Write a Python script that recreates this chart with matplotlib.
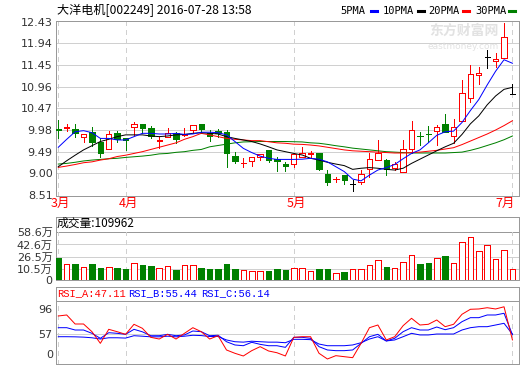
import matplotlib
matplotlib.use("Agg")
import matplotlib.pyplot as plt
from matplotlib.lines import Line2D
from matplotlib.patches import Rectangle

plt.rcParams['font.family'] = ['DejaVu Sans', 'Noto Sans CJK SC']

# ---------------- data ----------------
title = "大洋电机[002249] 2016-07-28 13:58"
month_labels = ["3月", "4月", "5月", "7月"]
month_idx = [0, 8, 28, 54]

opens = [10.00, 10.02, 10.00, 9.83, 9.93, 9.716, 9.54, 9.905, 9.79, 10.04,
         10.115, 10.02, 9.73, 9.83, 9.905, 9.87, 9.98, 10.115, 9.92, 9.96,
         9.927, 9.39, 9.235, 9.27, 9.38, 9.53, 9.32, 9.22, 9.20, 9.38,
         9.445, 9.45, 8.985, 8.865, 8.96, 8.76, 8.81, 9.09, 9.30, 9.30,
         9.115, 9.04, 9.55, 9.85, 9.895, 9.96, 10.11, 9.845, 10.19, 10.70,
         11.225, 11.64, 11.53, 11.60, 10.79]
closes = [9.99, 10.05, 9.905, 9.89, 9.716, 9.47, 9.88, 9.77, 9.755, 10.11,
          10.03, 9.845, 9.755, 9.905, 9.78, 9.89, 10.09, 10.00, 9.845, 9.91,
          9.467, 9.285, 9.245, 9.36, 9.43, 9.30, 9.29, 9.165, 9.43, 9.45,
          9.455, 9.10, 8.81, 8.875, 8.85, 8.76, 8.985, 9.325, 9.45, 9.09,
          9.205, 9.54, 9.98, 9.84, 9.885, 10.055, 9.94, 10.055, 10.81, 11.24,
          11.28, 11.64, 11.58, 12.09, 10.79]
highs = [10.21, 10.12, 10.12, 9.90, 10.055, 9.81, 9.95, 9.965, 9.79, 10.17,
         10.12, 10.08, 9.83, 10.02, 9.93, 10.02, 10.09, 10.12, 9.98, 9.995,
         9.98, 9.475, 9.34, 9.36, 9.43, 9.53, 9.36, 9.265, 9.45, 9.60,
         9.51, 9.465, 9.075, 8.925, 8.96, 8.85, 9.075, 9.45, 9.755, 9.32,
         9.265, 9.755, 10.19, 9.94, 10.08, 10.09, 10.34, 10.22, 11.10, 11.45,
         11.40, 11.79, 11.715, 12.40, 11.02]
lows = [9.79, 9.965, 9.83, 9.72, 9.62, 9.36, 9.54, 9.72, 9.53, 9.87,
        9.905, 9.81, 9.565, 9.83, 9.69, 9.845, 9.92, 9.92, 9.74, 9.83,
        9.135, 9.225, 9.15, 9.165, 9.30, 9.265, 9.06, 9.06, 9.15, 9.38,
        9.38, 9.075, 8.74, 8.81, 8.76, 8.61, 8.75, 8.92, 9.30, 8.96,
        9.075, 9.04, 9.45, 9.64, 9.72, 9.64, 9.94, 9.68, 10.19, 10.62,
        11.02, 11.38, 11.40, 11.60, 10.79]

ma5 = [9.59, 9.77, 9.94, 9.965, 9.92, 9.79, 9.79, 9.755, 9.755, 9.83,
       9.905, 9.905, 9.89, 9.89, 9.905, 9.88, 9.89, 9.93, 9.93, 9.92,
       9.87, 9.72, 9.565, 9.47, 9.39, 9.34, 9.315, 9.315, 9.315, 9.32,
       9.34, 9.32, 9.26, 9.15, 9.04, 8.87, 8.83, 8.96, 9.075, 9.13,
       9.20, 9.33, 9.45, 9.53, 9.69, 9.86, 9.94, 9.955, 10.15, 10.42,
       10.67, 11.00, 11.31, 11.57, 11.49]
ma10 = [9.15, 9.285, 9.41, 9.53, 9.625, 9.72, 9.77, 9.83, 9.87, 9.87,
        9.87, 9.845, 9.83, 9.845, 9.87, 9.88, 9.905, 9.92, 9.905, 9.89,
        9.83, 9.79, 9.755, 9.72, 9.665, 9.60, 9.53, 9.49, 9.45, 9.415,
        9.34, 9.30, 9.25, 9.21, 9.175, 9.09, 9.115, 9.13, 9.115, 9.09,
        9.075, 9.115, 9.225, 9.32, 9.415, 9.51, 9.60, 9.68, 9.88, 10.12,
        10.30, 10.55, 10.75, 10.90, 10.945]
ma20 = [9.135, 9.165, 9.20, 9.24, 9.26, 9.30, 9.33, 9.38, 9.41, 9.45,
        9.49, 9.54, 9.59, 9.64, 9.69, 9.77, 9.83, 9.905, 9.87, 9.83,
        9.79, 9.77, 9.755, 9.74, 9.74, 9.715, 9.69, 9.68, 9.66, 9.655,
        9.64, 9.62, 9.59, 9.56, 9.53, 9.51, 9.50, 9.49, 9.48, 9.47,
        9.46, 9.46, 9.47, 9.48, 9.50, 9.52, 9.55, 9.58, 9.65, 9.73,
        9.81, 9.89, 9.98, 10.08, 10.19]
ma30 = [9.21, 9.225, 9.25, 9.28, 9.30, 9.315, 9.33, 9.34, 9.36, 9.375,
        9.39, 9.41, 9.44, 9.45, 9.475, 9.49, 9.52, 9.54, 9.60, 9.63,
        9.66, 9.69, 9.71, 9.715, 9.72, 9.72, 9.72, 9.72, 9.715, 9.71,
        9.69, 9.68, 9.655, 9.625, 9.60, 9.57, 9.55, 9.53, 9.51, 9.49,
        9.48, 9.47, 9.46, 9.46, 9.46, 9.46, 9.46, 9.47, 9.48, 9.52,
        9.57, 9.63, 9.69, 9.76, 9.845]

volume = [24.5, 16.6, 17.0, 13.1, 17.0, 12.2, 13.1, 12.2, 10.5, 18.0,
          15.7, 14.4, 11.4, 14.4, 9.2, 15.7, 15.7, 12.2, 10.5, 10.5,
          17.0, 10.5, 9.2, 7.9, 7.9, 7.9, 10.5, 9.2, 11.4, 11.4,
          7.9, 10.5, 10.5, 4.8, 6.6, 10.1, 10.1, 15.7, 22.3, 13.1,
          11.4, 19.3, 28.4, 17.0, 18.3, 24.5, 27.5, 18.0, 45.5, 52.0,
          34.1, 41.9, 23.6, 35.4, 10.9962]

rsi_a = [85.3, 86.9, 72.5, 72.5, 60.2, 41.6, 64.0, 60.2, 56.0, 72.0,
         65.6, 51.2, 48.5, 56.0, 48.5, 57.6, 66.6, 60.2, 48.5, 53.8,
         31.0, 25.7, 21.4, 29.9, 36.3, 29.4, 26.6, 21.4, 51.2, 52.2,
         52.2, 25.7, 16.6, 21.9, 20.3, 18.7, 41.6, 66.6, 70.9, 47.0,
         52.2, 69.8, 81.6, 70.9, 72.0, 78.9, 68.2, 72.0, 88.0, 96.0,
         96.5, 98.5, 96.5, 100.0, 47.11]
rsi_b = [66.6, 66.6, 62.9, 62.9, 57.6, 49.6, 58.6, 57.6, 56.0, 64.0,
         60.0, 53.8, 53.8, 56.0, 53.8, 55.0, 61.3, 60.2, 53.8, 54.5,
         44.2, 39.0, 37.8, 43.3, 40.0, 37.8, 37.8, 35.2, 51.2, 51.2,
         49.6, 36.3, 31.0, 29.9, 29.9, 31.0, 41.6, 52.2, 56.0, 45.4,
         49.6, 60.2, 66.6, 62.9, 62.9, 67.7, 63.4, 66.6, 76.2, 82.6,
         82.6, 86.9, 86.9, 89.6, 55.44]
rsi_c = [52.2, 52.2, 52.0, 51.5, 50.5, 48.5, 50.5, 50.5, 50.0, 53.8,
         53.0, 52.0, 52.0, 53.0, 52.0, 53.0, 54.5, 54.0, 52.5, 52.5,
         47.0, 44.2, 43.5, 45.0, 44.2, 43.5, 43.5, 42.6, 48.0, 48.0,
         47.5, 40.5, 37.8, 37.8, 37.8, 39.0, 42.6, 48.5, 52.2, 45.4,
         47.0, 52.2, 57.6, 55.0, 55.0, 56.5, 56.5, 56.5, 62.9, 66.6,
         68.2, 68.2, 70.9, 73.6, 56.14]

price_ticks = [12.43, 11.94, 11.45, 10.96, 10.47, 9.98, 9.49, 9.00, 8.51]
vol_ticks = [10.5, 26.5, 42.6, 58.6]
vol_tick_labels = ["10.5万", "26.5万", "42.6万", "58.6万"]
rsi_ticks = [57, 96]
ma_names = ["5PMA", "10PMA", "20PMA", "30PMA"]
rsi_names = ["RSI_A:47.11", "RSI_B:55.44", "RSI_C:56.14"]
vol_title = "成交量:109962"

# ---------------- style ----------------
RED = "#ff0000"
GREEN = "#008000"
BLUE = "#0000ff"
BLACK = "#000000"
GRID = "#d0d0d0"
FRAME = "#999999"
TXT = "#333333"
ma_colors = [BLUE, BLACK, RED, GREEN]
LW = 0.72  # one pixel at 100 dpi

W, H, DPI = 520, 365, 100
fig = plt.figure(figsize=(W / DPI, H / DPI), dpi=DPI)
fig.patch.set_facecolor("white")


def rect(x0, y0, x1, y1):
    return [x0 / W, 1 - y1 / H, (x1 - x0) / W, (y1 - y0) / H]


X0, X1 = 55.5, 519.0
XF, DX = 58.3, 8.41
XL = ((X0 - XF) / DX, (X1 - XF) / DX)
n = len(closes)
xs = list(range(n))


def style_axes(ax):
    for s in ax.spines.values():
        s.set_color(FRAME)
        s.set_linewidth(LW)
    ax.tick_params(axis="both", length=0, labelsize=8, labelcolor=TXT, pad=2)
    ax.set_xlim(*XL)


# ---------- main price panel ----------
ax = fig.add_axes(rect(X0, 20.7, X1, 195.5))
style_axes(ax)
ppx = (195.0 - 21.7) / (12.43 - 8.51)
ax.set_ylim(8.51 - 0.5 / ppx, 12.43 + 1.0 / ppx)
ax.set_yticks(price_ticks)
ax.set_yticklabels([f"{t:.2f}" for t in price_ticks])
for t in price_ticks[1:-1]:
    ax.axhline(t, color=GRID, lw=LW, zorder=0, antialiased=False)
for m in month_idx:
    ax.axvline(m, color=GRID, lw=LW, ls=(0, (5, 5)), zorder=0, antialiased=False)
ax.set_xticks([])
for m, lab in zip(month_idx, month_labels):
    ax.text(min(m + 0.3, XL[1] - 0.02), -0.045, lab, transform=ax.get_xaxis_transform(),
            ha="center" if m < 50 else "right", va="center", fontsize=9, color=RED,
            family=["Noto Sans CJK SC"])

bw = 0.64
for i in xs:
    o, c, h, l = opens[i], closes[i], highs[i], lows[i]
    if c > o:
        col = RED
    elif c < o:
        col = GREEN
    else:
        col = BLACK
    ax.plot([i, i], [l, min(o, c)], color=col, lw=LW, zorder=3, antialiased=False)
    ax.plot([i, i], [max(o, c), h], color=col, lw=LW, zorder=3, antialiased=False)
    if c == o:
        ax.plot([i - bw / 2, i + bw / 2], [c, c], color=col, lw=LW, zorder=3,
                antialiased=False)
    else:
        ax.add_patch(Rectangle((i - bw / 2, min(o, c)), bw, abs(c - o),
                               facecolor="white" if c > o else col,
                               edgecolor=col, lw=LW, zorder=4, antialiased=False))

for ma, col in zip([ma30, ma20, ma10, ma5], [GREEN, RED, BLACK, BLUE]):
    ax.plot(xs, ma, color=col, lw=LW, zorder=5)

# watermark
ax.text(0.88, 0.945, "东方财富网", transform=ax.transAxes, ha="center",
        va="center", fontsize=10, color="#e2e2e2", zorder=1,
        family=["Noto Sans CJK SC"], fontweight="bold")
ax.text(0.88, 0.855, "eastmoney.com", transform=ax.transAxes, ha="center",
        va="center", fontsize=6.5, color="#e2e2e2", zorder=1)

# ---------- volume panel ----------
axv = fig.add_axes(rect(X0, 216.7, X1, 280.3))
style_axes(axv)
vpx = 0.763
vmin = -(280.3 - 277.0) / vpx
vmax = (277.0 - 216.7) / vpx
axv.set_ylim(vmin, vmax)
axv.set_yticks([vmin] + vol_ticks)
axv.set_yticklabels(["0"] + vol_tick_labels)
for t in vol_ticks[:-1]:
    axv.axhline(t, color=GRID, lw=LW, zorder=0, antialiased=False)
axv.axhline(vol_ticks[-1], color=FRAME, lw=LW, zorder=0, antialiased=False)
for m in month_idx:
    axv.axvline(m, ymin=0, ymax=(58.6 - vmin) / (vmax - vmin),
                color=GRID, lw=LW, ls=(0, (5, 5)), zorder=0, antialiased=False)
axv.set_xticks([])
for i in xs:
    up = closes[i] >= opens[i]
    col = RED if up else GREEN
    axv.add_patch(Rectangle((i - 0.33, vmin), 0.66, volume[i] - vmin,
                            facecolor="white" if up else col, edgecolor=col,
                            lw=LW, zorder=3, antialiased=False))
fig.text(57 / W, 1 - 223.5 / H, vol_title, ha="left", va="center", fontsize=8.5,
         color=BLACK, family=["Noto Sans CJK SC"])

# ---------- RSI panel ----------
axr = fig.add_axes(rect(X0, 286.7, X1, 364.0))
style_axes(axr)
rpx = 0.626
r_lo = 57 - (364.0 - 333.7) / rpx
r_hi = 57 + (333.7 - 286.7) / rpx
axr.set_ylim(r_lo, r_hi)
axr.set_yticks(rsi_ticks)
axr.set_yticklabels([str(t) for t in rsi_ticks])
axr.axhline(57, color=GRID, lw=LW, zorder=0, antialiased=False)
sep = (364.0 - 300.7) / (364.0 - 286.7)
axr.plot([0, 1], [sep, sep], transform=axr.transAxes, color=FRAME, lw=LW,
         antialiased=False)
for m in month_idx:
    axr.axvline(m, ymin=0, ymax=sep, color=GRID, lw=LW, ls=(0, (5, 5)), zorder=0,
                antialiased=False)
axr.text(-0.004, (364.0 - 355.0) / (364.0 - 286.7), "0", transform=axr.transAxes,
         ha="right", va="center", fontsize=8, color=TXT)
axr.set_xticks([])
axr.plot(xs, rsi_c, color=BLUE, lw=LW, zorder=3)
axr.plot(xs, rsi_b, color=BLUE, lw=LW, zorder=3)
axr.plot(xs, rsi_a, color=RED, lw=LW, zorder=4)
for name, col, xp in zip(rsi_names, [RED, BLUE, BLUE], [57, 128, 201.5]):
    fig.text(xp / W, 1 - 293.5 / H, name, ha="left", va="center", fontsize=7.5,
             color=col, family=["Liberation Mono"])

# ---------- header ----------
fig.text(57 / W, 1 - 10.5 / H, title, ha="left", va="center", fontsize=8.7,
         color=BLACK, family=["Noto Sans CJK SC"])
for name, col, xt, xd in zip(ma_names, ma_colors, [340, 383, 428, 475],
                             [371, 418, 463, 509]):
    fig.text(xt / W, 1 - 10.7 / H, name, ha="left", va="center", fontsize=7.5,
             color=BLACK, family=["DejaVu Sans Mono"])
    fig.add_artist(Line2D([xd / W, (xd + 6) / W], [1 - 10.7 / H, 1 - 10.7 / H],
                          color=col, lw=2.2, transform=fig.transFigure))

fig.savefig("out.png", dpi=DPI, facecolor="white")
